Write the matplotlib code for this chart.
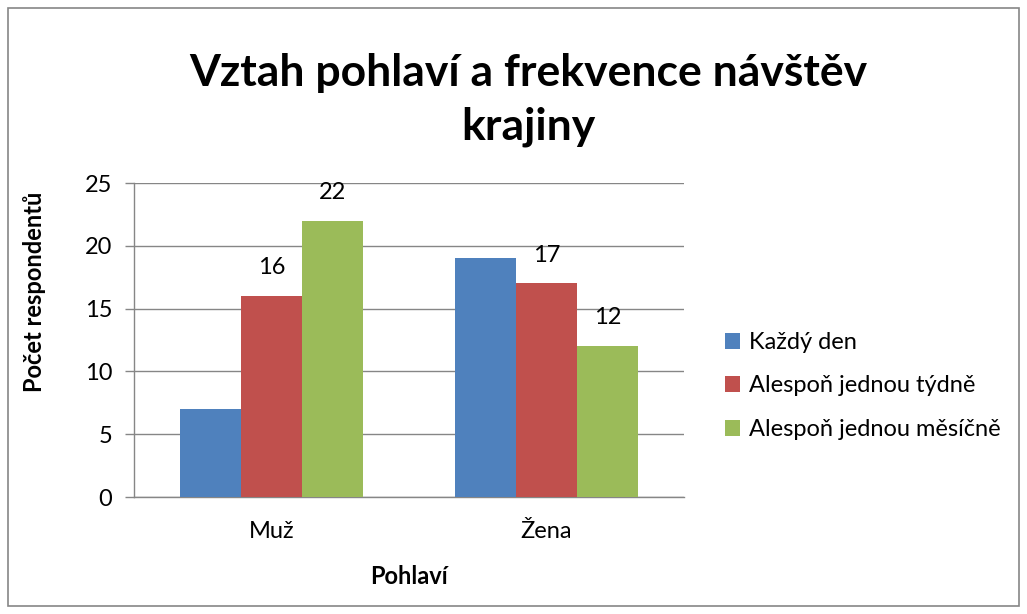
import matplotlib
matplotlib.use("Agg")
import matplotlib.pyplot as plt
from matplotlib.patches import Rectangle
import numpy as np

plt.rcParams['font.family'] = ['Lato', 'DejaVu Sans']

categories = ["Muž", "Žena"]
series_names = ["Každý den", "Alespoň jednou týdně", "Alespoň jednou měsíčně"]
values = {
    "Každý den": [7, 19],
    "Alespoň jednou týdně": [16, 17],
    "Alespoň jednou měsíčně": [22, 12],
}
# data labels as shown in the reference (blue bars have none)
shown_labels = {
    "Každý den": [None, None],
    "Alespoň jednou týdně": [16, 17],
    "Alespoň jednou měsíčně": [22, 12],
}
colors = ["#4F81BD", "#C0504D", "#9BBB59"]
yticks = [0, 5, 10, 15, 20, 25]

FS = 17

fig = plt.figure(figsize=(10.27, 6.14), dpi=100)
ax = fig.add_axes([134/1027, 1-497/614, (684-134)/1027, (497-183)/614])

x = np.arange(len(categories))
w = 0.222
for i, name in enumerate(series_names):
    pos = x + (i - 1) * w
    bars = ax.bar(pos, values[name], width=w, color=colors[i], label=name, zorder=3)
    for b, lab in zip(bars, shown_labels[name]):
        if lab is not None:
            ax.annotate(str(lab), (b.get_x() + b.get_width()/2, b.get_height()),
                        xytext=(0, 20.5), textcoords='offset points',
                        ha='center', va='center', fontsize=FS, color='black')

ax.set_xlim(-0.5, 1.5)
ax.set_ylim(0, 25)
ax.set_yticks(yticks)
ax.set_yticklabels([str(t) for t in yticks], fontsize=FS)
ax.set_xticks(x)
ax.set_xticklabels(categories, fontsize=FS)
ax.tick_params(axis='x', length=0, pad=17)
ax.tick_params(axis='y', length=6.5, color='#868686', width=1, pad=9)
ax.yaxis.grid(True, color='#868686', linewidth=1, zorder=0)
for s in ['top', 'right']:
    ax.spines[s].set_visible(False)
for s in ['left', 'bottom']:
    ax.spines[s].set_color('#868686')
    ax.spines[s].set_linewidth(1)

ax.set_ylabel("Počet respondentů", fontsize=FS, fontweight='bold', va='center')
ax.yaxis.set_label_coords((35-134)/550, (497-292)/314)
ax.set_xlabel("Pohlaví", fontsize=FS, fontweight='bold', va='center')
ax.xaxis.set_label_coords(0.5, (497-576)/314)

fig.text(528/1027, 1-100/614, "Vztah pohlaví a frekvence návštěv\nkrajiny", ha='center', va='center',
         fontsize=32, fontweight='bold', linespacing=1.38)

leg = ax.legend(loc='center left', bbox_to_anchor=((725-134)/550, (497-386)/314),
                frameon=False, fontsize=FS, borderaxespad=0, borderpad=0,
                handlelength=0.65, handleheight=0.65, labelspacing=0.95, handletextpad=0.35)

fig.patches.append(Rectangle((8/1027, 8/614), 1011/1027, 598/614, transform=fig.transFigure,
                             fill=False, edgecolor='#868686', linewidth=1.2))

fig.savefig("out.png", dpi=100)
